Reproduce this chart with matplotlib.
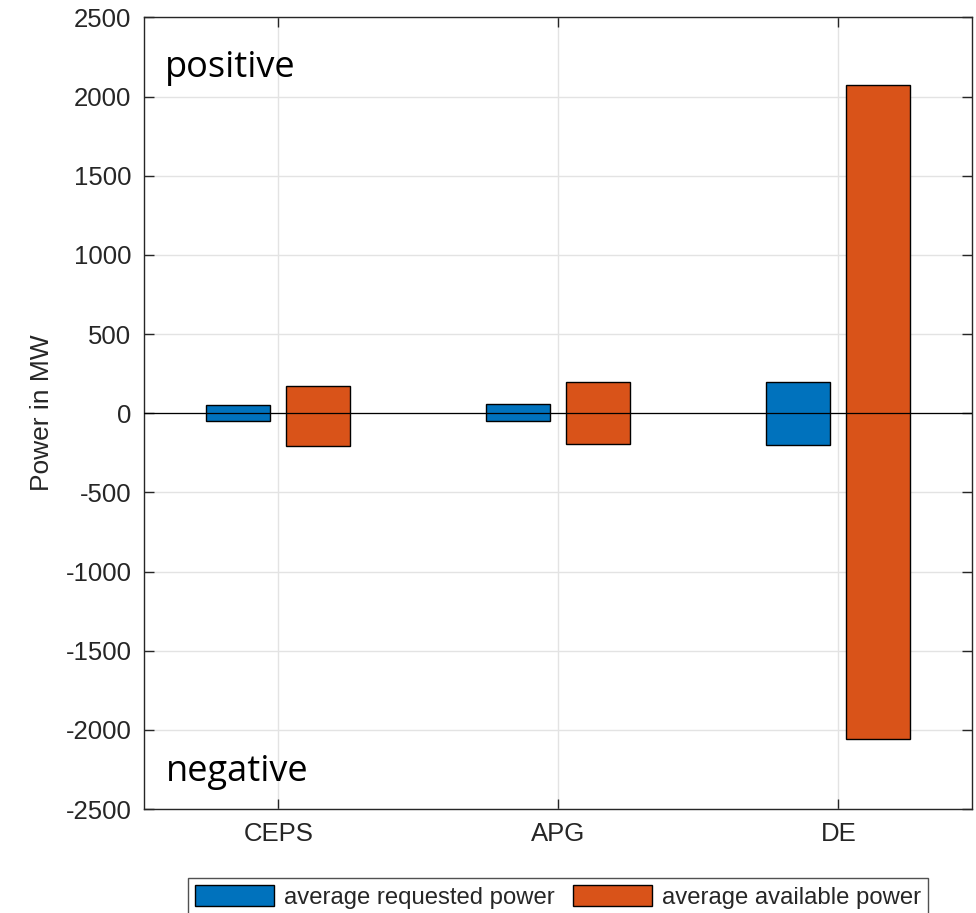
import numpy as np
import matplotlib.pyplot as plt

# data
categories = ["CEPS", "APG", "DE"]
requested_pos = [50, 55, 200]
requested_neg = [-50, -50, -200]
available_pos = [170, 200, 2070]
available_neg = [-210, -195, -2060]

blue = "#0072BD"
orange = "#D95319"
grey = "#262626"

plt.rcParams['font.family'] = ['Liberation Sans', 'DejaVu Sans']
plt.rcParams['axes.unicode_minus'] = False

fig = plt.figure(figsize=(9.76, 9.13), dpi=100)
ax = fig.add_axes([0.1475, 0.1139, 0.8484, 0.8671])

x = np.arange(1, len(categories) + 1)
w = 0.2286
off = 0.143

# positive and negative part of each bar, drawn as one bar from neg to pos
req_h = np.array(requested_pos) - np.array(requested_neg)
av_h = np.array(available_pos) - np.array(available_neg)
ax.bar(x - off, req_h, w, bottom=requested_neg, color=blue, edgecolor="black",
       linewidth=1, label="average requested power", zorder=3)
ax.bar(x + off, av_h, w, bottom=available_neg, color=orange, edgecolor="black",
       linewidth=1, label="average available power", zorder=3)
ax.axhline(0, color="black", linewidth=0.9, zorder=4)

ax.set_xlim(0.52, 3.477)
ax.set_ylim(-2500, 2500)
ax.set_xticks(x)
ax.set_xticklabels(categories)
ax.set_yticks(np.arange(-2500, 2501, 500))
ax.grid(True, color="#e3e3e3", linewidth=1, zorder=0)
ax.set_axisbelow(True)

for s in ax.spines.values():
    s.set_color(grey)
    s.set_linewidth(1)
ax.tick_params(direction="in", length=7, width=1, color=grey, labelcolor=grey,
               labelsize=18.5, top=True, right=True, pad=9)
ax.set_ylabel("Power in MW", fontsize=19, color=grey, labelpad=8)

ax.text(0.025, 0.925, "positive", transform=ax.transAxes, fontsize=26,
        family=["Open Sans", "DejaVu Sans"], va="baseline", ha="left")
ax.text(0.026, 0.0355, "negative", transform=ax.transAxes, fontsize=26,
        family=["Open Sans", "DejaVu Sans"], va="baseline", ha="left")

leg = fig.legend(loc="upper left", bbox_to_anchor=(0.1926, 0.0383), ncol=2,
                 fontsize=17.2, frameon=True, fancybox=False, edgecolor=grey,
                 handlelength=3.3, handleheight=0.95, handletextpad=0.4,
                 columnspacing=0.8, borderpad=0.3, borderaxespad=0)
leg.get_frame().set_linewidth(1)
for t in leg.get_texts():
    t.set_color(grey)

fig.savefig("out.png", dpi=100)
